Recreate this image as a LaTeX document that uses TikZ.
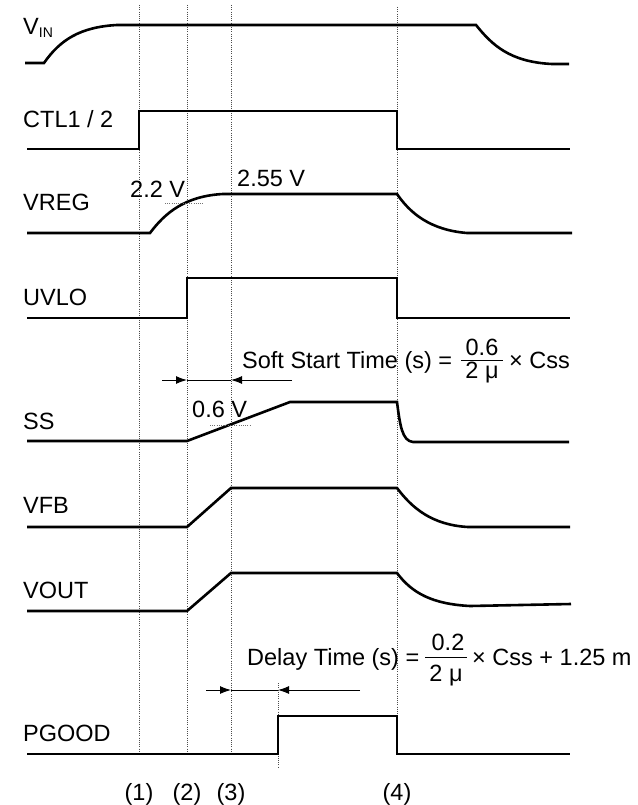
\documentclass[tikz,border=0pt]{standalone}
\usepackage{fontspec}
\setmainfont{Liberation Sans}
\usetikzlibrary{arrows.meta}
\newcommand{\lblfont}{\fontsize{23.5}{28}\selectfont}
\newcommand{\subfnt}{\fontsize{14}{16}\selectfont}
\begin{document}
\begin{tikzpicture}[x=1pt,y=-1pt,
  sig/.style={line width=2.6pt, line join=miter},
  gridln/.style={line width=0.8pt, black!70, dash pattern=on 1pt off 1.2pt},
  tickln/.style={line width=0.9pt, black!55, dash pattern=on 1pt off 1.2pt},
  dimln/.style={line width=1pt},
  tip/.style={-{Latex[length=11pt,width=8pt]}},
  lbl/.style={anchor=base west, inner sep=0pt, font=\lblfont},
  txt/.style={anchor=base, inner sep=0pt, font=\lblfont},
]
\useasboundingbox (0,0) rectangle (637,805);

% time markers
\foreach \n/\x/\t/\b in {g1/139/5/753, g2/187/5/753, g3/231/5/753, g4/397/7/753, g5/278/683/768} {
  \coordinate (\n t) at (\x,\t);
  \coordinate (\n b) at (\x,\b);
  \draw[gridln] (\n t) -- (\n b);
}

% signal names
\node[lbl] (vin) at (23,35) {V\raisebox{-3pt}{\subfnt IN}};
\node[lbl] (ctl) at (23,128) {CTL1 / 2};
\node[lbl] (vreg) at (23,210) {VREG};
\node[lbl] (uvlo) at (23,305) {UVLO};
\node[lbl] (ss) at (23,429) {SS};
\node[lbl] (vfb) at (23,513) {VFB};
\node[lbl] (vout) at (23,598) {VOUT};
\node[lbl] (pgood) at (23,741) {PGOOD};

% waveforms
\draw[sig] (25,63) -- (44,63) .. controls (60,40) and (80,27) .. (117,25) -- (476,25)
  .. controls (492,45) and (510,62) .. (552,64) -- (569,64);
\draw[sig] (27,149) -- (139,149) -- (139,111) -- (397,111) -- (397,149) -- (570,149);
\draw[sig] (27,233) -- (150,233) .. controls (165,213) and (185,196) .. (223,194) -- (397,194)
  .. controls (410,213) and (430,230) .. (467,233) -- (572,233);
\draw[sig] (27,318) -- (187,318) -- (187,278) -- (397,278) -- (397,318) -- (570,318);
\draw[sig] (27,441) -- (187,441) -- (290,402) -- (397,402)
  .. controls (400,425) and (402,441) .. (413,442) -- (569,442);
\draw[sig] (27,527) -- (187,527) -- (231,488) -- (397,488)
  .. controls (412,508) and (432,525) .. (468,527) -- (570,527);
\draw[sig] (27,611) -- (187,611) -- (231,573) -- (397,573)
  .. controls (412,593) and (432,604) .. (470,606) -- (571,604);
\draw[sig] (27,754) -- (278,754) -- (278,716) -- (397,716) -- (397,754) -- (570,754);

% level labels
\node[lbl] (l22) at (130,197) {2.2 V};
\draw[tickln] (165,203) -- (203,203);
\node[lbl] (l255) at (237,186) {2.55 V};
\node[lbl] (l06) at (192,417) {0.6 V};
\draw[tickln] (210,425) -- (250,425);

% soft start dimension
\coordinate (sa) at (162,380);
\coordinate (sb) at (187,380);
\coordinate (sc) at (231,380);
\coordinate (sd) at (292,380);
\draw[dimln,tip] (sa) -- (sb);
\draw[dimln] (sb) -- (sc);
\draw[dimln,tip] (sd) -- (sc);

\node[lbl] (sstxt) at (242,368) {Soft Start Time (s) =};
\node[txt] (ssnum) at (482,355) {0.6};
\node[txt] (ssden) at (482,378) {2 μ};
\coordinate (sfl) at (461,360);
\coordinate (sfr) at (503,360);
\draw[line width=1pt] (sfl) -- (sfr);
\node[lbl] (sstail) at (509,368) {× Css};

% delay dimension
\coordinate (da) at (206,690);
\coordinate (db) at (231,690);
\coordinate (dc) at (278,690);
\coordinate (dd) at (360,690);
\draw[dimln,tip] (da) -- (db);
\draw[dimln] (db) -- (dc);
\draw[dimln,tip] (dd) -- (dc);

\node[lbl] (dltxt) at (247,665) {Delay Time (s) =};
\node[txt] (dlnum) at (448,650) {0.2};
\node[txt] (dlden) at (446,681) {2 μ};
\coordinate (dfl) at (425,657);
\coordinate (dfr) at (467,657);
\draw[line width=1pt] (dfl) -- (dfr);
\node[lbl] (dltail) at (472,665) {× Css + 1.25 m};

% phase numbers
\node[txt] (m1) at (139,800) {(1)};
\node[txt] (m2) at (187,800) {(2)};
\node[txt] (m3) at (231,800) {(3)};
\node[txt] (m4) at (397,800) {(4)};
\end{tikzpicture}
\end{document}
